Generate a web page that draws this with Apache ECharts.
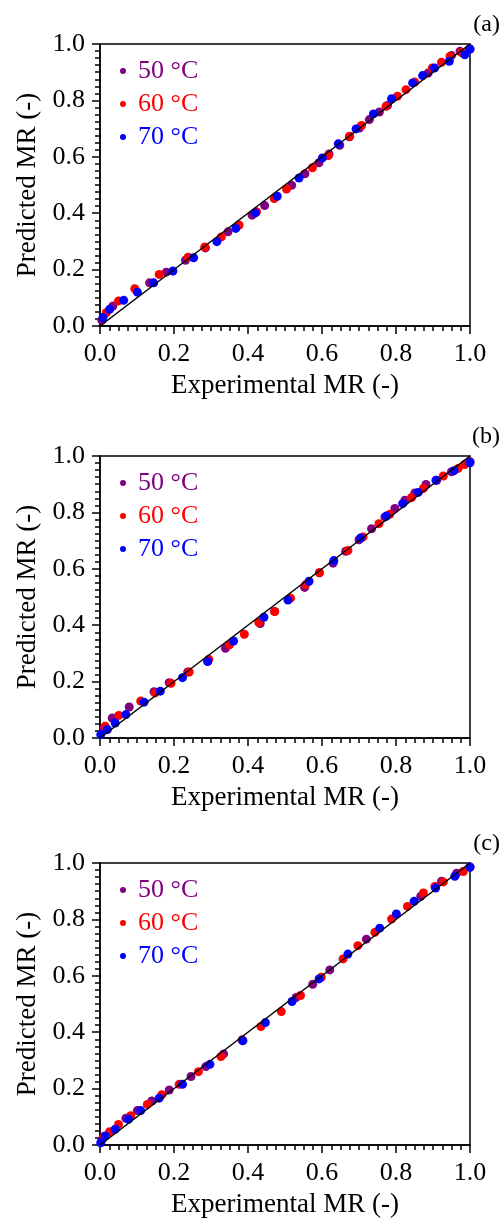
<!DOCTYPE html>
<html>
<head>
<meta charset="utf-8">
<script src="https://cdn.jsdelivr.net/npm/echarts@6/dist/echarts.min.js"></script>
<style>
html,body{margin:0;padding:0;background:#fff;}
#main{width:502px;height:1220px;}
</style>
</head>
<body>
<div id="main"></div>
<script>
// ---- data ----
var seriesNames = ['50 °C', '60 °C', '70 °C'];
var panelLabels = ['(a)', '(b)', '(c)'];
var xTitle = 'Experimental MR (-)';
var yTitle = 'Predicted MR (-)';

var a50 = [[0.005,0.02],[0.035,0.071],[0.134,0.153],[0.179,0.191],[0.231,0.233],[0.285,0.277],[0.346,0.334],[0.411,0.393],[0.445,0.427],[0.518,0.499],[0.554,0.540],[0.592,0.579],[0.619,0.610],[0.648,0.641],[0.674,0.671],[0.701,0.702],[0.728,0.732],[0.755,0.759],[0.777,0.782],[0.887,0.897],[0.950,0.959],[0.973,0.974],[1.0,0.982]];
var a60 = [[0.017,0.047],[0.050,0.089],[0.094,0.132],[0.160,0.183],[0.238,0.244],[0.283,0.280],[0.328,0.316],[0.376,0.358],[0.423,0.405],[0.471,0.452],[0.504,0.486],[0.574,0.561],[0.617,0.604],[0.675,0.673],[0.707,0.711],[0.773,0.779],[0.804,0.815],[0.827,0.838],[0.851,0.865],[0.898,0.915],[0.923,0.935],[0.946,0.956],[0.977,0.970],[0.998,0.982]];
var a70 = [[0.008,0.030],[0.026,0.059],[0.064,0.091],[0.101,0.120],[0.145,0.153],[0.197,0.195],[0.253,0.242],[0.316,0.299],[0.367,0.346],[0.420,0.401],[0.479,0.460],[0.538,0.525],[0.601,0.596],[0.644,0.646],[0.692,0.699],[0.739,0.752],[0.788,0.806],[0.845,0.862],[0.872,0.888],[0.904,0.915],[0.944,0.939],[0.986,0.962],[1.0,0.982]];

var b50 = [[0.011,0.036],[0.033,0.071],[0.079,0.110],[0.146,0.164],[0.187,0.196],[0.237,0.234],[0.291,0.273],[0.339,0.318],[0.433,0.406],[0.472,0.449],[0.553,0.534],[0.593,0.586],[0.630,0.620],[0.664,0.662],[0.700,0.703],[0.734,0.742],[0.770,0.784],[0.797,0.814],[0.824,0.843],[0.851,0.869],[0.881,0.899],[0.910,0.914],[0.950,0.944],[1.0,0.980]];
var b60 = [[0.014,0.042],[0.051,0.080],[0.110,0.131],[0.149,0.160],[0.192,0.194],[0.241,0.234],[0.294,0.279],[0.350,0.330],[0.390,0.368],[0.429,0.410],[0.472,0.448],[0.515,0.496],[0.556,0.544],[0.593,0.586],[0.670,0.665],[0.711,0.713],[0.754,0.760],[0.783,0.793],[0.842,0.853],[0.874,0.885],[0.928,0.929],[0.968,0.956],[0.986,0.970]];
var b70 = [[0.002,0.012],[0.020,0.030],[0.041,0.053],[0.070,0.083],[0.119,0.127],[0.163,0.166],[0.223,0.214],[0.291,0.271],[0.361,0.344],[0.443,0.428],[0.508,0.489],[0.565,0.556],[0.632,0.629],[0.704,0.709],[0.774,0.787],[0.818,0.831],[0.860,0.871],[0.908,0.914],[0.957,0.948],[1.0,0.976]];

var c50 = [[0.006,0.020],[0.070,0.095],[0.101,0.122],[0.140,0.156],[0.187,0.195],[0.246,0.243],[0.286,0.278],[0.334,0.323],[0.384,0.373],[0.530,0.523],[0.575,0.570],[0.621,0.621],[0.720,0.730],[0.867,0.882],[0.923,0.935],[0.964,0.964],[1.0,0.985]];
var c60 = [[0.011,0.030],[0.026,0.047],[0.050,0.073],[0.083,0.104],[0.128,0.144],[0.167,0.178],[0.214,0.215],[0.266,0.260],[0.327,0.314],[0.386,0.370],[0.435,0.420],[0.490,0.473],[0.542,0.530],[0.598,0.595],[0.657,0.660],[0.697,0.707],[0.743,0.754],[0.788,0.801],[0.831,0.846],[0.874,0.894],[0.905,0.917],[0.928,0.933],[0.982,0.970]];
var c70 = [[0.002,0.008],[0.014,0.032],[0.041,0.056],[0.077,0.091],[0.110,0.122],[0.160,0.166],[0.223,0.215],[0.297,0.286],[0.386,0.370],[0.447,0.434],[0.519,0.509],[0.592,0.589],[0.670,0.677],[0.756,0.769],[0.801,0.819],[0.849,0.864],[0.907,0.911],[0.959,0.953],[1.0,0.986]];

var panels = [[a50, a60, a70], [b50, b60, b70], [c50, c60, c70]];
var colors = ['#800080', '#FF0000', '#0000FF'];
var diagonal = [[0, 0], [1, 1]];

// ---- layout ----
var FONT = 'Liberation Serif';
var gridTops = [44, 456, 863];
var gridLeft = 100, gridW = 370, gridH = 282;

var grids = [], xAxes = [], yAxes = [], series = [], legends = [], graphics = [];
gridTops.forEach(function (top, p) {
  grids.push({left: gridLeft, top: top, width: gridW, height: gridH, show: true,
    borderColor: '#000', borderWidth: 1.5, backgroundColor: 'transparent'});
  var common = {
    gridIndex: p, type: 'value', min: 0, max: 1, interval: 0.2,
    splitLine: {show: false},
    axisLine: {show: true, onZero: false, lineStyle: {color: '#000', width: 1.5}},
    axisTick: {show: true, inside: false, length: 8, lineStyle: {color: '#000', width: 1.5}},
    minorTick: {show: true, splitNumber: 8, length: 5, lineStyle: {color: '#000', width: 1.5}},
    axisLabel: {color: '#000', fontFamily: FONT, fontSize: 26, margin: 15,
      formatter: function (v) { return v.toFixed(1); }},
    nameLocation: 'middle',
    nameTextStyle: {color: '#000', fontFamily: FONT, fontSize: 27}
  };
  xAxes.push(Object.assign({}, common, {name: xTitle, nameGap: 46}));
  yAxes.push(Object.assign({}, common, {name: yTitle, nameGap: 53}));
  panels[p].forEach(function (d, s) {
    series.push({type: 'scatter', name: seriesNames[s], xAxisIndex: p, yAxisIndex: p,
      data: d, symbol: 'circle', symbolSize: 9, itemStyle: {color: colors[s], opacity: 1},
      emphasis: {disabled: true}, z: 2 + s});
  });
  series.push({type: 'line', xAxisIndex: p, yAxisIndex: p, data: diagonal, showSymbol: false,
    symbol: 'none', lineStyle: {color: '#000', width: 1.5}, z: 6, silent: true});
  legends.push({
    orient: 'vertical', left: 120, top: top + 14, icon: 'circle',
    itemWidth: 20, itemHeight: 6, itemGap: 7, padding: 0,
    selectedMode: false,
    textStyle: {fontFamily: FONT, fontSize: 26, lineHeight: 26},
    data: seriesNames.map(function (n, i) { return {name: n, textStyle: {color: colors[i]}}; })
  });
  graphics.push({type: 'text', right: 2, top: top - 31,
    style: {text: panelLabels[p], font: '24px "' + FONT + '"', fill: '#000'}});
});

var chart = echarts.init(document.getElementById('main'), null, {renderer: 'canvas'});
chart.setOption({
  backgroundColor: '#fff',
  animation: false,
  grid: grids, xAxis: xAxes, yAxis: yAxes, series: series,
  legend: legends, graphic: graphics
});
</script>
</body>
</html>
